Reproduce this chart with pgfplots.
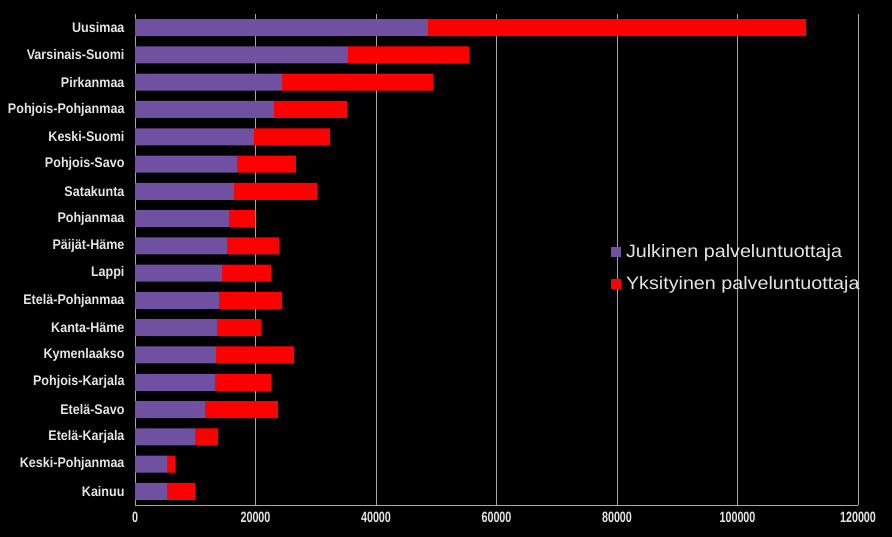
\documentclass[border=0pt]{standalone}
\usepackage{fontspec}
\setmainfont{Liberation Sans}
\newfontfamily\catfont[FakeStretch=0.9]{Liberation Sans}
\newfontfamily\tickfont[FakeStretch=0.72]{Liberation Sans}
\newfontfamily\legfont[FakeStretch=1.1]{Liberation Sans}
\usepackage{pgfplots}
\pgfplotsset{compat=1.18}
\usepackage{pgfplotstable}
\definecolor{julk}{HTML}{7050A0}
\definecolor{yks}{HTML}{FF0000}
\definecolor{gridc}{HTML}{A6A6A6}
\definecolor{txt}{HTML}{E6E6E6}
\pgfplotstableread{
i pub priv
0 48630 62740
1 35350 20090
2 24400 25060
3 23070 12120
4 19750 12620
5 16930 9790
6 16430 13780
7 15600 4320
8 15270 8630
9 14440 8130
10 13940 10460
11 13610 7300
12 13440 12950
13 13280 9290
14 11620 12110
15 9960 3820
16 5310 1330
17 5310 4650
}\data
\begin{document}
\begin{tikzpicture}
\fill[black] (0,0) rectangle (892bp,537bp);
\useasboundingbox (0,0) rectangle (892bp,537bp);
\begin{axis}[
  at={(135bp,32bp)}, anchor=south west, scale only axis,
  width=723bp, height=491bp,
  xbar stacked, bar width=17bp,
  xmin=0, xmax=120000, ymin=-0.5, ymax=17.5, y dir=reverse,
  scaled x ticks=false,
  xtick={0,20000,40000,60000,80000,100000,120000},
  xticklabels={0,20000,40000,60000,80000,100000,120000},
  ytick={0,...,17},
  yticklabels={Uusimaa,Varsinais-Suomi,Pirkanmaa,Pohjois-Pohjanmaa,Keski-Suomi,Pohjois-Savo,Satakunta,Pohjanmaa,Päijät-Häme,Lappi,Etelä-Pohjanmaa,Kanta-Häme,Kymenlaakso,Pohjois-Karjala,Etelä-Savo,Etelä-Karjala,Keski-Pohjanmaa,Kainuu},
  axis lines*=left, axis line style={gridc, line width=0.8pt},
  xmajorgrids, grid style={gridc, line width=0.8pt},
  major tick length=0pt,
  yticklabel style={txt, font=\catfont\bfseries\fontsize{14}{16}\selectfont, xshift=-7bp},
  xticklabel style={txt, font=\tickfont\bfseries\fontsize{15}{17}\selectfont, yshift=-4bp},
  legend style={at={(0.654,0.483)}, anchor=west, draw=none, fill=none,
    text=txt, font=\legfont\fontsize{18}{20}\selectfont, row sep=14bp,
    legend cell align=left},
]
\addplot[fill=julk, draw=none, legend image code/.code={\fill[julk] (0bp,-5bp) rectangle (10bp,5bp); \path (13bp,0bp);}] table[x=pub,y=i]{\data};
\addlegendentry{Julkinen palveluntuottaja}
\addplot[fill=yks, draw=none, legend image code/.code={\fill[yks] (0bp,-5bp) rectangle (10bp,5bp); \path (13bp,0bp);}] table[x=priv,y=i]{\data};
\addlegendentry{Yksityinen palveluntuottaja}
\end{axis}
\end{tikzpicture}
\end{document}
